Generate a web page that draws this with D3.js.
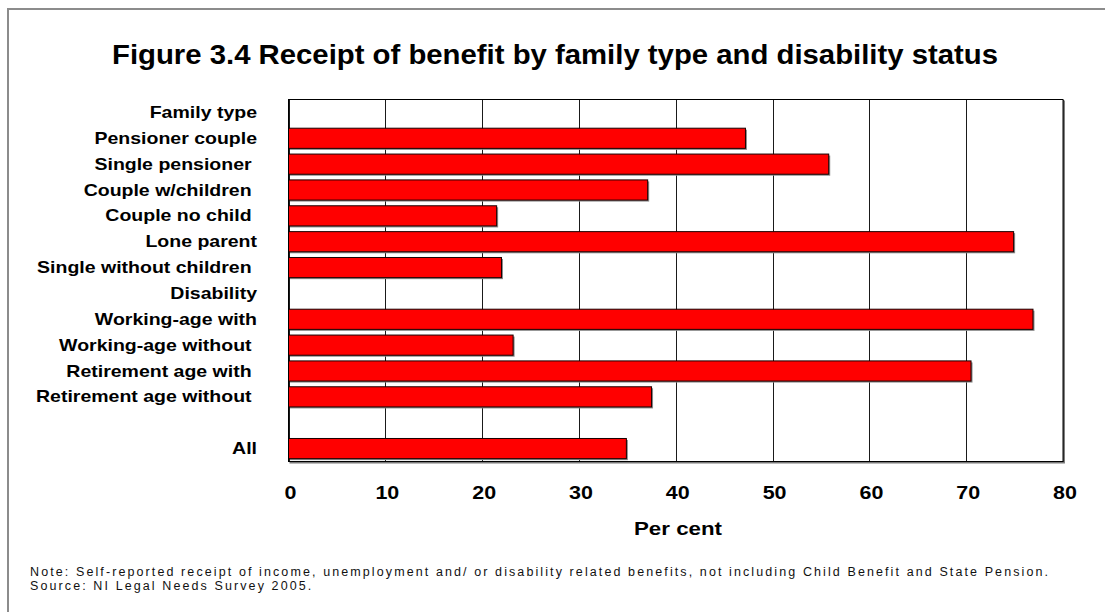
<!DOCTYPE html>
<html>
<head>
<meta charset="utf-8">
<script src="https://cdn.jsdelivr.net/npm/d3@7"></script>
<style>
  html, body { margin: 0; padding: 0; background: #fff; }
  svg { display: block; font-family: Arial, "Liberation Sans", sans-serif; }
  text { white-space: pre; }
</style>
</head>
<body>
<svg id="chart" width="1105" height="612"></svg>
<script>
// Chart data: row labels (section headers and a spacer row carry no value)
const categories = [
  "Family type",
  "Pensioner couple",
  "Single pensioner ",
  "Couple w/children ",
  "Couple no child ",
  "Lone parent",
  "Single without children ",
  "Disability",
  "Working-age with",
  "Working-age without ",
  "Retirement age with ",
  "Retirement age without ",
  "",
  "All"
];
const values = [null, 47.2, 55.8, 37.1, 21.5, 74.9, 22.0, null, 76.9, 23.2, 70.5, 37.5, null, 34.9];
const xTicks = [0, 10, 20, 30, 40, 50, 60, 70, 80];
const titleText = "Figure 3.4 Receipt of benefit by family type and disability status";
const xAxisTitle = "Per cent";
const noteLines = [
  "Note: Self-reported receipt of income, unemployment and/ or disability related benefits, not including Child Benefit and State Pension.",
  "Source: NI Legal Needs Survey 2005."
];

const svg = d3.select("#chart");

// Layout
const plot = { left: 288.5, right: 1063, top: 99.5, bottom: 461.5 };

const x = d3.scaleLinear().domain([0, 80]).range([plot.left, plot.right]);
const y = d3.scaleBand()
  .domain(d3.range(categories.length))
  .range([plot.top, plot.bottom])
  .paddingInner(0.22)
  .paddingOuter(0.11);

// Outer frame (runs off the right and bottom edges)
svg.append("path")
  .attr("d", "M8,620 L8,9 L1110,9")
  .attr("fill", "none")
  .attr("stroke", "#8c8c8c")
  .attr("stroke-width", 2);

// Title
svg.append("text")
  .attr("x", 112)
  .attr("y", 64)
  .attr("font-size", 28)
  .attr("font-weight", "bold")
  .attr("textLength", 886)
  .attr("lengthAdjust", "spacingAndGlyphs")
  .text(titleText);

// Plot background
svg.append("rect")
  .attr("x", plot.left).attr("y", plot.top)
  .attr("width", plot.right - plot.left).attr("height", plot.bottom - plot.top)
  .attr("fill", "#fff");

// Vertical gridlines from the axis ticks
const xAxis = d3.axisBottom(x).tickValues(xTicks).tickSize(-(plot.bottom - plot.top)).tickFormat("");
const grid = svg.append("g")
  .attr("transform", `translate(0,${plot.bottom})`)
  .call(xAxis);
grid.select(".domain").remove();
grid.selectAll(".tick line")
  .attr("stroke", "#1a1a1a")
  .attr("stroke-width", 1)
  .attr("shape-rendering", "crispEdges");

// Bars with a soft drop shadow
const rows = categories.map((c, i) => ({ label: c, value: values[i], i }));
const barRows = rows.filter(d => d.value != null);

svg.append("g").selectAll("rect")
  .data(barRows)
  .join("rect")
  .attr("x", x(0) + 1.5)
  .attr("y", d => y(d.i) + 1.5)
  .attr("width", d => x(d.value) - x(0))
  .attr("height", y.bandwidth())
  .attr("fill", "#8a8a8a");

svg.append("g").selectAll("rect")
  .data(barRows)
  .join("rect")
  .attr("x", x(0))
  .attr("y", d => y(d.i))
  .attr("width", d => x(d.value) - x(0))
  .attr("height", y.bandwidth())
  .attr("fill", "#ff0000")
  .attr("stroke", "#1a0000")
  .attr("stroke-width", 1);

// Plot border with shadow
svg.append("path")
  .attr("d", `M${plot.left + 1},${plot.bottom + 1.2} H${plot.right + 1.2} V${plot.top + 1}`)
  .attr("fill", "none")
  .attr("stroke", "#7a7a7a")
  .attr("stroke-width", 1.5);
svg.append("rect")
  .attr("x", plot.left).attr("y", plot.top)
  .attr("width", plot.right - plot.left).attr("height", plot.bottom - plot.top)
  .attr("fill", "none")
  .attr("stroke", "#000")
  .attr("stroke-width", 1);

// Category labels
svg.append("g").selectAll("text")
  .data(rows)
  .join("text")
  .attr("transform", d => `translate(257,${y(d.i) + y.bandwidth() / 2 + 5.5}) scale(1.22,1)`)
  .attr("text-anchor", "end")
  .attr("font-size", 16)
  .attr("font-weight", "bold")
  .attr("fill", "#000")
  .text(d => d.label);

// X tick labels
svg.append("g").selectAll("text")
  .data(xTicks)
  .join("text")
  .attr("transform", d => `translate(${x(d) + 2},499) scale(1.16,1)`)
  .attr("text-anchor", "middle")
  .attr("font-size", 18.5)
  .attr("font-weight", "bold")
  .text(d => d);

// X axis title
svg.append("text")
  .attr("x", 634)
  .attr("y", 535)
  .attr("font-size", 19)
  .attr("font-weight", "bold")
  .attr("textLength", 88)
  .attr("lengthAdjust", "spacingAndGlyphs")
  .text(xAxisTitle);

// Footnotes: widen letter spacing so the first line spans its full width,
// and use the same spacing on the second line
const notes = svg.append("g").selectAll("text")
  .data(noteLines)
  .join("text")
  .attr("x", 30)
  .attr("y", (d, i) => 576 + i * 14)
  .attr("font-size", 12.5)
  .attr("fill", "#111")
  .text(d => d);
const firstNote = notes.nodes()[0];
const naturalWidth = firstNote.getComputedTextLength();
const spacing = Math.max(0, (1018 - naturalWidth) / (noteLines[0].length - 1));
notes.attr("letter-spacing", spacing);
</script>
</body>
</html>
